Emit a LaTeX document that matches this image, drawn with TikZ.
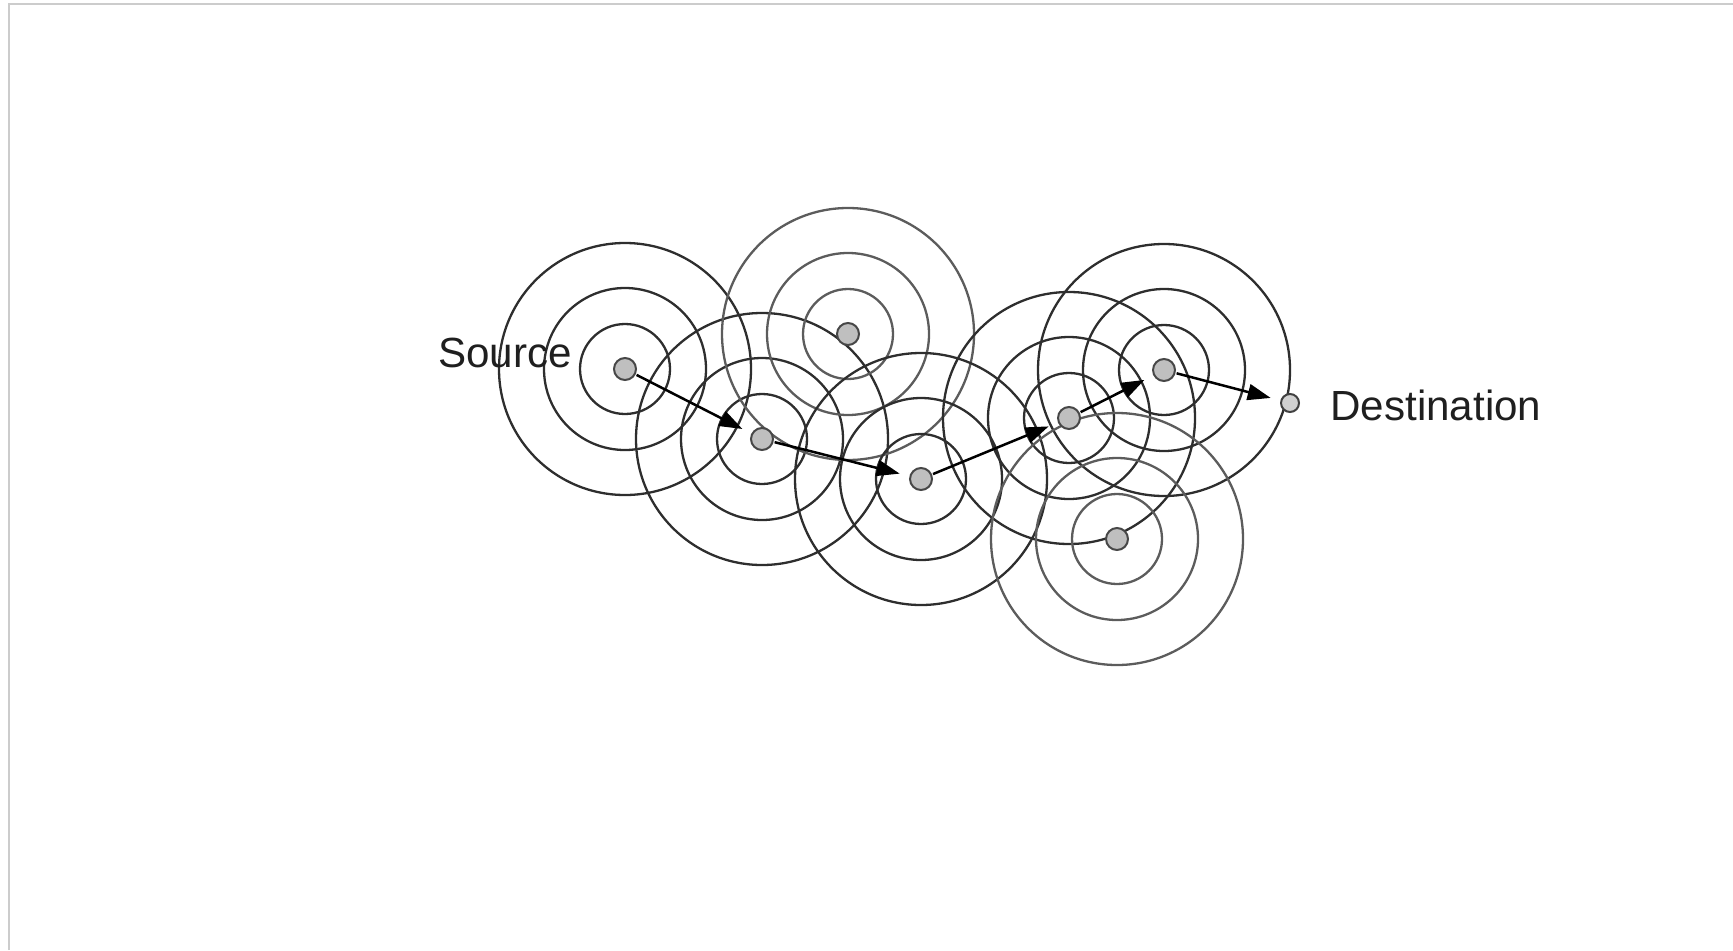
\documentclass[tikz,border=0pt]{standalone}
\usepackage{fontspec}
\setmainfont{Liberation Sans}
\usetikzlibrary{arrows.meta}
\begin{document}
\begin{tikzpicture}[x=0.02cm,y=-0.02cm,
  ring/.style={draw=black!82,line width=0.046cm},
  ringlight/.style={draw=black!64,line width=0.046cm},
  relay/.style={circle,draw=black!72,fill=black!25,line width=0.04cm,minimum size=0.44cm,inner sep=0pt},
  dest/.style={circle,draw=black!75,fill=black!18,line width=0.04cm,minimum size=0.36cm,inner sep=0pt},
  hop/.style={draw=black,line width=0.05cm,-{Triangle[length=0.46cm,width=0.32cm]},shorten >=0.2cm,shorten <=0.02cm},
  lbl/.style={font=\fontsize{24}{29}\selectfont,text=black!88,inner sep=0pt,anchor=base west},
  frame/.style={draw=black!20,line width=0.04cm}]
\useasboundingbox (0,0) rectangle (1733,950);
\draw[frame] (9,950) -- (9,4) -- (1733,4);
% centres
\coordinate (pa) at (625,369);
\coordinate (pb) at (762,439);
\coordinate (pc) at (848,334);
\coordinate (pd) at (921,479);
\coordinate (pe) at (1069,418);
\coordinate (pf) at (1164,370);
\coordinate (pg) at (1117,539);
\coordinate (pz) at (1290,403);
% rings
\foreach \p/\s in {pa/ring,pb/ring,pc/ringlight,pd/ring,pe/ring,pf/ring,pg/ringlight}{
  \foreach \r in {45,81,126}{
    \draw[\s] (\p) circle[radius=\r];
  }
}
% labels
\node[lbl] (src) at (438,367) {Source};
\node[lbl] (dst) at (1330,420) {Destination};
% dots
\node[relay] (a) at (pa) {};
\node[relay] (b) at (pb) {};
\node[relay] (c) at (pc) {};
\node[relay] (d) at (pd) {};
\node[relay] (e) at (pe) {};
\node[relay] (f) at (pf) {};
\node[relay] (g) at (pg) {};
\node[dest] (z) at (pz) {};
% hops
\draw[hop] (a) -- (b);
\draw[hop] (b) -- (d);
\draw[hop] (d) -- (e);
\draw[hop] (e) -- (f);
\draw[hop] (f) -- (z);
\end{tikzpicture}
\end{document}
